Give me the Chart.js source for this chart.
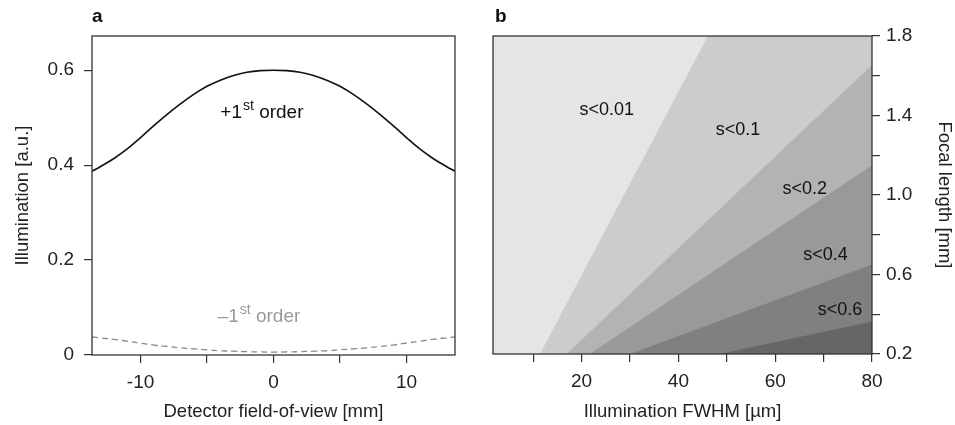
<!DOCTYPE html>
<html>
<head>
<meta charset="utf-8">
<script src="https://cdn.jsdelivr.net/npm/chart.js@4.4.0/dist/chart.umd.min.js"></script>
<style>
  body { margin: 0; background: #fff; }
  #wrapA { position: absolute; left: 0; top: 0; width: 480px; height: 425px; }
  #wrapB { position: absolute; left: 480px; top: 0; width: 475px; height: 425px; }
</style>
</head>
<body>
<div id="wrapA"><canvas id="chartA" width="480" height="425"></canvas></div>
<div id="wrapB"><canvas id="chartB" width="475" height="425"></canvas></div>
<script>
// panel a: illumination across the detector field of view
var fovX = [-13.65, -13, -12, -11, -10, -9, -8, -7, -6, -5, -4, -3, -2, -1, 0,
            1, 2, 3, 4, 5, 6, 7, 8, 9, 10, 11, 12, 13, 13.65];
var plusFirst = [0.387, 0.397, 0.414, 0.434, 0.458, 0.483, 0.507, 0.529, 0.549, 0.566, 0.579, 0.589, 0.5955, 0.599, 0.600,
                 0.599, 0.5955, 0.589, 0.579, 0.566, 0.549, 0.529, 0.507, 0.483, 0.458, 0.434, 0.414, 0.397, 0.387];
var minusFirst = [0.038, 0.036, 0.033, 0.029, 0.025, 0.021, 0.018, 0.015, 0.013, 0.011, 0.009, 0.008, 0.007, 0.0065, 0.006,
                  0.0065, 0.007, 0.008, 0.009, 0.011, 0.013, 0.015, 0.018, 0.021, 0.025, 0.029, 0.033, 0.036, 0.038];
var fovTicks = [-10, -5, 0, 5, 10];
var fovLabelled = [-10, 0, 10];
var illumTicks = [0, 0.2, 0.4, 0.6];

// panel b: contour boundaries (FWHM in um vs focal length in mm)
var fwhmTicks = [10, 20, 30, 40, 50, 60, 70, 80];
var focalTicks = [0.2, 0.4, 0.6, 0.8, 1.0, 1.2, 1.4, 1.6, 1.8];
var edge1X = [11.4, 46.1, 80], edge1Y = [0.2, 1.8, 1.8];
var edge2X = [16.9, 80], edge2Y = [0.2, 1.654];
var edge3X = [21.7, 80], edge3Y = [0.2, 1.15];
var edge4X = [30, 80], edge4Y = [0.2, 0.65];
var edge5X = [48.5, 80], edge5Y = [0.2, 0.364];
var levelNames = ['s<0.01', 's<0.1', 's<0.2', 's<0.4', 's<0.6'];
var levelLabelX = [25.2, 52.3, 66.1, 70.4, 73.4];
var levelLabelY = [1.43, 1.325, 1.03, 0.70, 0.423];

var FONT = '"Liberation Sans", Arial, Helvetica, sans-serif';
Chart.defaults.font.family = FONT;
Chart.defaults.font.size = 19;
Chart.defaults.color = '#222';

function pts(xs, ys) {
    return xs.map(function (x, i) { return { x: x, y: ys[i] }; });
}

function axisBase(ticksList, labelFn, pad) {
    return {
        type: 'linear',
        border: { display: false },
        grid: { drawOnChartArea: false, drawTicks: true, tickLength: 8, color: '#333', lineWidth: 1.2 },
        afterBuildTicks: function (axis) {
            axis.ticks = ticksList.map(function (v) { return { value: v }; });
        },
        ticks: { padding: pad, color: '#222', callback: labelFn, maxRotation: 0, autoSkip: false }
    };
}

var frame = {
    id: 'frame',
    afterDatasetsDraw: function (chart) {
        var a = chart.chartArea, ctx = chart.ctx;
        ctx.save();
        ctx.strokeStyle = '#333';
        ctx.lineWidth = 1.3;
        ctx.strokeRect(a.left, a.top, a.right - a.left, a.bottom - a.top);
        ctx.restore();
    }
};

function panelLetter(letter, dx) {
    return {
        id: 'letter' + letter,
        afterDraw: function (chart) {
            var ctx = chart.ctx;
            ctx.save();
            ctx.font = 'bold 19px ' + FONT;
            ctx.fillStyle = '#111';
            ctx.textAlign = 'left';
            ctx.textBaseline = 'alphabetic';
            ctx.fillText(letter, chart.chartArea.left + dx, 22);
            ctx.restore();
        }
    };
}

function drawOrder(ctx, x, y, sign, color) {
    ctx.fillStyle = color;
    ctx.textAlign = 'left';
    ctx.textBaseline = 'alphabetic';
    ctx.font = '19px ' + FONT;
    ctx.fillText(sign + '1', x, y);
    var w = ctx.measureText(sign + '1').width;
    ctx.font = '14px ' + FONT;
    ctx.fillText('st', x + w + 1, y - 8);
    var w2 = ctx.measureText('st').width;
    ctx.font = '19px ' + FONT;
    ctx.fillText(' order', x + w + 1 + w2, y);
}

var orderLabels = {
    id: 'orderLabels',
    afterDatasetsDraw: function (chart) {
        var sx = chart.scales.x, sy = chart.scales.y, ctx = chart.ctx;
        ctx.save();
        drawOrder(ctx, sx.getPixelForValue(-4.0), sy.getPixelForValue(0.5), '+', '#111');
        drawOrder(ctx, sx.getPixelForValue(-4.2), sy.getPixelForValue(0.07), '\u2013', '#999');
        ctx.restore();
    }
};

var xA = axisBase(fovTicks, function (v) { return fovLabelled.indexOf(v) >= 0 ? String(v) : ''; }, 8);
xA.min = -13.65; xA.max = 13.65;
xA.afterFit = function (s) { s.height = 70; };
xA.title = { display: true, text: 'Detector field-of-view [mm]', font: { size: 18.5 }, color: '#222', padding: { top: 4, bottom: 2 } };

var yA = axisBase(illumTicks, function (v) { return v === 0 ? '0' : v.toFixed(1); }, 10);
yA.min = 0; yA.max = 0.672;
yA.afterFit = function (s) { s.width = 92; };
yA.title = { display: true, text: 'Illumination [a.u.]', font: { size: 18.5 }, color: '#222', padding: { top: 12, bottom: 4 } };

new Chart(document.getElementById('chartA'), {
    type: 'line',
    data: {
        datasets: [
            { label: '+1st order', data: pts(fovX, plusFirst), borderColor: '#111', borderWidth: 1.6, pointRadius: 0, tension: 0.4, fill: false },
            { label: '-1st order', data: pts(fovX, minusFirst), borderColor: '#888', borderWidth: 1.3, borderDash: [6, 4], pointRadius: 0, tension: 0.4, fill: false }
        ]
    },
    options: {
        responsive: false,
        animation: false,
        layout: { padding: { left: 0, top: 36, right: 25, bottom: 0 } },
        scales: { x: xA, y: yA },
        plugins: { legend: { display: false }, tooltip: { enabled: false } }
    },
    plugins: [frame, orderLabels, panelLetter('a', 0)]
});

var background = {
    id: 'background',
    beforeDatasetsDraw: function (chart) {
        var a = chart.chartArea, ctx = chart.ctx;
        ctx.save();
        ctx.fillStyle = '#e5e5e5';
        ctx.fillRect(a.left, a.top, a.right - a.left, a.bottom - a.top);
        ctx.restore();
    }
};

var levelText = {
    id: 'levelText',
    afterDatasetsDraw: function (chart) {
        var sx = chart.scales.x, sy = chart.scales.y, ctx = chart.ctx;
        ctx.save();
        ctx.font = '18px ' + FONT;
        ctx.fillStyle = '#111';
        ctx.textAlign = 'center';
        ctx.textBaseline = 'middle';
        levelNames.forEach(function (t, i) {
            ctx.fillText(t, sx.getPixelForValue(levelLabelX[i]), sy.getPixelForValue(levelLabelY[i]));
        });
        ctx.restore();
    }
};

var xB = axisBase(fwhmTicks, function (v) { return v % 20 === 0 ? String(v) : ''; }, 8);
xB.min = 1.7; xB.max = 80;
xB.afterFit = function (s) { s.height = 71; };
xB.title = { display: true, text: 'Illumination FWHM [\u00b5m]', font: { size: 18.5 }, color: '#222', padding: { top: 4, bottom: 2 } };

var yB = axisBase(focalTicks, function (v, i) { return i % 2 === 0 ? v.toFixed(1) : ''; }, 6);
yB.position = 'right';
yB.min = 0.2; yB.max = 1.8;
yB.afterFit = function (s) { s.width = 83; };
yB.title = { display: true, text: 'Focal length [mm]', font: { size: 18.5 }, color: '#222', padding: { top: 0, bottom: 4 } };

function band(xs, ys, color, order) {
    return { data: pts(xs, ys), borderWidth: 0, borderColor: color, backgroundColor: color, pointRadius: 0, tension: 0, fill: 'start', order: order };
}

new Chart(document.getElementById('chartB'), {
    type: 'line',
    data: {
        datasets: [
            band(edge1X, edge1Y, '#cccccc', 5),
            band(edge2X, edge2Y, '#b3b3b3', 4),
            band(edge3X, edge3Y, '#999999', 3),
            band(edge4X, edge4Y, '#808080', 2),
            band(edge5X, edge5Y, '#666666', 1)
        ]
    },
    options: {
        responsive: false,
        animation: false,
        layout: { padding: { left: 13, top: 36, right: 0, bottom: 0 } },
        scales: { x: xB, y: yB },
        plugins: { legend: { display: false }, tooltip: { enabled: false } }
    },
    plugins: [background, frame, levelText, panelLetter('b', 2)]
});
</script>
</body>
</html>
